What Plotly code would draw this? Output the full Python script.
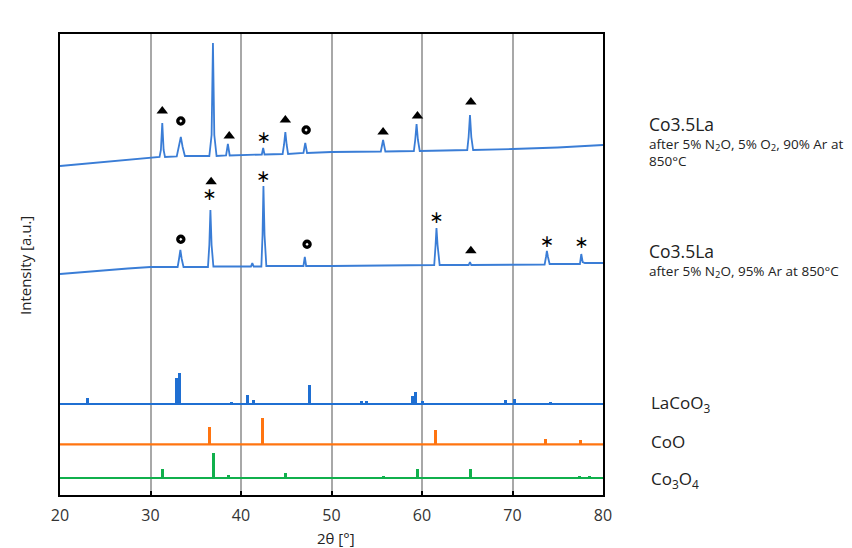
import plotly.graph_objects as go

# ---------------- data (intensity in arbitrary units) ----------------
# Measured pattern: Co3.5La after 5% N2O, 5% O2, 90% Ar at 850°C
top_x = [20.0, 22.5, 25.0, 27.5, 30.0, 31.0, 31.15, 31.3, 31.45, 31.6, 32.9, 33.15, 33.35, 33.55, 33.8,
         36.5, 36.75, 36.9, 37.05, 37.3, 38.35, 38.55, 38.75, 42.3, 42.45, 42.6, 44.6, 44.75, 44.9, 45.05,
         45.2, 46.9, 47.1, 47.3, 50.0, 55.45, 55.7, 55.95, 59.1, 59.25, 59.4, 59.55, 59.75, 62.5, 65.0,
         65.15, 65.3, 65.45, 65.65, 70.0, 75.0, 80.0]
top_y = [329, 331, 333, 335, 337.5, 338, 345, 372, 345, 338, 338.5, 348, 358, 348, 339,
         339, 360, 452, 360, 339, 339.5, 351, 339.5, 340.5, 347, 340.5, 341, 350, 363, 350,
         341, 342, 352, 342, 343, 343.5, 355, 343.5, 344, 355, 371, 355, 344, 344.5, 345,
         358, 380, 358, 345, 346, 347.5, 350]

# Measured pattern: Co3.5La after 5% N2O, 95% Ar at 850°C
bot_x = [20.0, 22.5, 25.0, 27.5, 30.0, 33.0, 33.15, 33.3, 33.45, 33.65, 36.35, 36.5, 36.62, 36.75, 36.95,
         41.1, 41.25, 41.4, 42.25, 42.38, 42.48, 42.6, 42.8, 46.9, 47.05, 47.2, 50.0, 55.0, 61.35, 61.5,
         61.6, 61.72, 61.95, 65.15, 65.3, 65.45, 70.0, 73.55, 73.7, 73.8, 73.92, 74.1, 77.45, 77.6, 77.75,
         78.0, 80.0]
bot_y = [221, 223, 225, 226.5, 228, 228, 236, 245, 236, 228, 228, 250, 285, 250, 228.5,
         228.5, 232, 228.5, 228.5, 260, 309, 260, 229, 229, 238, 229, 229, 229.5, 230, 250,
         267, 250, 230, 230, 233, 230, 230, 230.5, 238, 244, 238, 231, 231, 241, 233,
         232, 232]

# Reference patterns (stick positions, heights, baseline level)
laco_pos = [23.0, 32.85, 33.25, 39.0, 40.7, 41.35, 47.55, 53.3, 53.9, 58.9, 59.25, 60.05, 69.25, 70.25, 74.2]
laco_h = [6, 26, 31, 1.5, 9, 4, 19, 3, 3, 8, 12, 3.5, 4.5, 5.5, 1.5]
laco_base = 91

coo_pos = [36.5, 42.4, 61.5, 73.65, 77.5]
coo_h = [17, 26, 14, 5, 4]
coo_base = 50.7

co3o4_pos = [31.35, 36.95, 38.6, 44.95, 55.7, 59.45, 65.35, 74.2, 77.4, 78.5]
co3o4_h = [9, 25, 3, 5.3, 2.5, 9, 9.3, 1, 2, 1.5]
co3o4_base = 17

# Phase markers on measured patterns
tri_x = [31.3, 36.9, 38.7, 44.9, 55.7, 59.5, 65.4, 36.7, 65.4]
tri_y = [384, 472.5, 359, 375, 363, 379, 393, 313.3, 244.3]
circ_x = [33.35, 47.2, 33.35, 47.3]
circ_y = [374, 365, 255.7, 250.7]
ast_x = [42.5, 36.5, 42.45, 61.6, 73.8, 77.6]
ast_y = [356.7, 299.3, 317.7, 276.7, 252.7, 251]

tick_vals = [20, 30, 40, 50, 60, 70, 80]

# ---------------- figure ----------------
BLUE_MEAS = "#3a7dd6"
BLUE_REF = "#1f6fd2"
ORANGE = "#ff7410"
GREEN = "#10b04c"
FONT = "Open Sans"

fig = go.Figure()

fig.add_trace(go.Scatter(x=top_x, y=top_y, mode="lines",
                         line=dict(color=BLUE_MEAS, width=1.8), hoverinfo="skip"))
fig.add_trace(go.Scatter(x=bot_x, y=bot_y, mode="lines",
                         line=dict(color=BLUE_MEAS, width=1.8), hoverinfo="skip"))

for pos, h, base, col in [(laco_pos, laco_h, laco_base, BLUE_REF),
                          (coo_pos, coo_h, coo_base, ORANGE),
                          (co3o4_pos, co3o4_h, co3o4_base, GREEN)]:
    fig.add_trace(go.Scatter(x=[20, 80], y=[base, base], mode="lines",
                             line=dict(color=col, width=2.2), hoverinfo="skip"))
    fig.add_trace(go.Bar(x=pos, y=h, base=[base] * len(pos), width=0.33,
                         marker=dict(color=col, line=dict(width=0)), hoverinfo="skip"))

# markers (plus the legend symbols at the right, outside the plot area)
LEG_X = 83.7
fig.add_trace(go.Scatter(x=tri_x + [LEG_X + 0.2], y=tri_y + [16], mode="markers", cliponaxis=False,
                         marker=dict(symbol="triangle-up", size=10, color="black"), hoverinfo="skip"))
fig.add_trace(go.Scatter(x=circ_x + [LEG_X], y=circ_y + [93], mode="markers", cliponaxis=False,
                         marker=dict(symbol="circle-dot", size=11, color="black",
                                     line=dict(color="white", width=1.6)), hoverinfo="skip"))
fig.add_trace(go.Scatter(x=ast_x + [LEG_X], y=ast_y + [53.5], mode="text", cliponaxis=False,
                         text=["∗"] * (len(ast_x) + 1), textposition="middle center",
                         textfont=dict(family="DejaVu Sans", size=17, color="black"), hoverinfo="skip"))

# page body has an 8 px margin; figure sits at (8, 8) in the window
OFF = 8
PX0, PW, PY0, PH = 60, 543, 495, 461


def px(xp):
    return (xp - PX0) / PW


def py(yp):
    return (PY0 - yp) / PH


ann = []
def add_text(x, y, text, size, **kw):
    ann.append(dict(xref="paper", yref="paper", x=px(x), y=py(y), text=text, showarrow=False,
                    xanchor=kw.get("xanchor", "left"), yanchor="middle", align="left",
                    textangle=kw.get("angle", 0),
                    font=dict(family=FONT, size=size, color="#222")))

BIG = "<span style='font-size:17.5px'>Co3.5La</span>"
add_text(647, 141, BIG + "<br>after 5% N<sub>2</sub>O, 5% O<sub>2</sub>, 90% Ar at<br>850°C", 13.5)
add_text(647, 260, BIG + "<br>after 5% N<sub>2</sub>O, 95% Ar at 850°C", 13.5)
add_text(649, 403, "LaCoO<sub>3</sub>", 17)
add_text(649, 441, "CoO", 17)
add_text(649, 479, "Co<sub>3</sub>O<sub>4</sub>", 17)
add_text(336, 538, "2θ [°]", 15, xanchor="center")
add_text(25, 266, "Intensity [a.u.]", 15, xanchor="center", angle=-90)

W, H = 852 - OFF, 548 - OFF
fig.update_layout(
    width=W, height=H,
    margin=dict(l=PX0 - OFF, r=W - (PX0 - OFF) - PW, t=PY0 - PH - OFF, b=H - (PY0 - OFF)),
    paper_bgcolor="white", plot_bgcolor="white",
    showlegend=False, barmode="overlay", bargap=0,
    annotations=ann,
    font=dict(family=FONT, color="#333"),
)
fig.update_xaxes(range=[20, 80], tickvals=tick_vals, ticktext=[str(v) for v in tick_vals],
                 showgrid=True, gridcolor="#a8a8a8", gridwidth=2,
                 showline=True, linecolor="black", linewidth=2, mirror=True,
                 ticks="inside", ticklen=4, tickwidth=2, tickcolor="black",
                 ticklabelstandoff=5,
                 tickfont=dict(family=FONT, size=16, color="#333"), zeroline=False)
fig.update_yaxes(range=[0, PH], showgrid=False, showticklabels=False, zeroline=False,
                 showline=True, linecolor="black", linewidth=2, mirror=True, ticks="")

fig.write_html("out.html")
